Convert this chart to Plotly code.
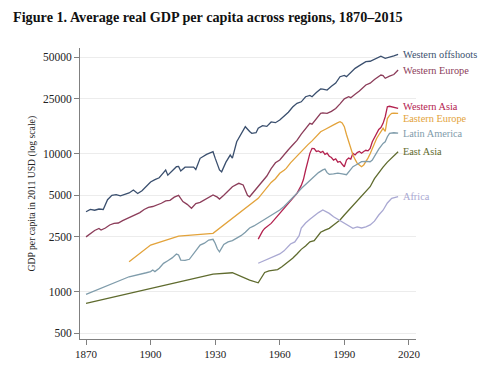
import math
import plotly.graph_objects as go

# ---------------- data ----------------
wo_years = [1870,1872,1874,1876,1878,1879,1880,1882,1884,1886,1888,1890,1892,1894,1896,1898,1900,1902,1904,1906,1907,1908,1910,1912,1913,1914,1916,1918,1920,1921,1923,1926,1929,1930,1932,1933,1935,1937,1938,1940,1942,1944,1946,1947,1949,1950,1952,1954,1956,1958,1960,1962,1964,1966,1968,1970,1972,1974,1975,1977,1979,1980,1982,1984,1986,1988,1990,1991,1993,1995,1997,1999,2000,2002,2004,2006,2007,2009,2011,2013,2015]
wo_vals = [3800,3950,3900,3980,3950,4300,4650,5000,5050,4950,5050,5200,5460,5150,5400,5800,6250,6500,6700,7300,7630,7000,7500,8060,8100,7500,8000,8000,8000,7700,9270,9900,10350,9300,7630,7400,8700,9790,9300,12230,14000,15710,14500,14070,14200,15300,16000,15800,17000,16800,17560,18700,20000,21800,23210,23800,25900,26500,25900,27800,29500,29400,28970,30800,32500,36170,37000,36200,38500,41600,43500,45500,46460,46800,48500,50500,51000,49170,50000,51200,52560]

we_years = [1870,1872,1874,1876,1877,1879,1881,1883,1885,1887,1889,1891,1893,1895,1897,1899,1901,1903,1905,1907,1909,1911,1913,1915,1917,1919,1921,1923,1925,1927,1929,1931,1932,1934,1936,1938,1940,1941,1943,1945,1946,1948,1950,1952,1954,1956,1958,1960,1962,1964,1966,1968,1970,1972,1974,1975,1977,1979,1980,1982,1984,1986,1988,1990,1992,1993,1995,1997,2000,2002,2004,2006,2007,2008,2009,2011,2013,2015]
we_vals = [2500,2640,2780,2880,2800,2900,3050,3130,3150,3280,3400,3500,3650,3750,3950,4090,4150,4250,4380,4550,4600,4850,5000,4500,4300,4030,4350,4450,4650,4820,5030,4850,4700,5000,5400,5770,6000,6110,5950,5000,4880,5300,5770,6300,6900,7800,8600,9010,9900,10700,11570,12500,13900,15200,16620,16400,17800,19640,19800,19600,20300,21300,23000,25000,25900,25500,27000,28500,31490,32500,34500,36500,37200,36800,35230,36500,37500,40450]

wa_years = [1950,1951,1952,1953,1954,1956,1958,1960,1962,1964,1966,1968,1970,1971,1972,1973,1974,1975,1976,1977,1978,1979,1980,1981,1982,1983,1984,1985,1986,1987,1988,1989,1990,1991,1992,1993,1994,1995,1996,1997,1998,1999,2000,2001,2002,2003,2004,2005,2006,2007,2008,2009,2010,2011,2012,2013,2014,2015]
wa_vals = [2410,2600,2750,2880,2950,3130,3400,3700,3950,4350,4750,5170,5900,6500,7600,9010,10070,10950,10900,10400,10500,10200,10400,9900,10100,9600,9400,9000,9200,8700,8800,8400,8060,9010,9300,9150,10070,9800,10200,10400,10100,10400,10600,10500,10950,12230,13000,14000,15000,15500,16620,18560,21930,22100,21930,21800,21500,21350]

ee_years = [1890,1900,1913,1929,1950,1952,1954,1956,1958,1960,1962,1963,1965,1967,1969,1971,1973,1975,1977,1979,1981,1983,1985,1987,1988,1989,1990,1991,1992,1993,1994,1995,1996,1997,1998,1999,2000,2001,2002,2003,2004,2005,2006,2007,2008,2009,2010,2011,2012,2013,2014,2015]
ee_vals = [1650,2180,2535,2650,4756,5200,5700,6200,6600,7220,7600,7840,8600,9300,10000,10700,11600,12400,13400,14450,15000,15700,16200,16800,17060,16700,15710,13800,12230,10800,9790,9100,8530,8300,8060,8300,8760,9300,10000,10950,12000,12900,13680,14600,15300,14500,18000,19000,19640,19700,19640,19640]

la_years = [1870,1890,1898,1900,1901,1902,1904,1906,1908,1910,1912,1913,1914,1916,1918,1920,1921,1923,1925,1927,1929,1930,1931,1932,1934,1936,1938,1940,1942,1944,1946,1948,1950,1952,1954,1956,1958,1960,1962,1964,1966,1968,1970,1972,1974,1976,1978,1980,1981,1982,1983,1985,1987,1989,1990,1991,1993,1994,1996,1998,2000,2002,2003,2004,2006,2008,2009,2010,2011,2013,2014,2015]
la_vals = [958,1285,1374,1400,1437,1400,1480,1607,1680,1760,1877,1850,1699,1690,1720,1900,2007,2180,2250,2370,2400,2250,2050,1950,2200,2300,2350,2450,2550,2700,2900,3000,3134,3250,3406,3550,3700,3912,4150,4450,4800,5170,5600,6000,6460,6900,7300,7650,7750,7300,7100,7150,7250,7150,7100,7050,7700,8060,8400,8760,8800,8760,9000,9600,10800,11900,12200,13290,14070,14200,14070,14100]

ea_years = [1870,1929,1938,1946,1950,1951,1953,1955,1957,1959,1961,1963,1965,1966,1968,1970,1972,1974,1976,1977,1979,1981,1983,1985,1988,1990,1992,1994,1997,1999,2002,2004,2006,2008,2010,2012,2014,2015]
ea_vals = [825,1345,1374,1216,1163,1230,1380,1420,1437,1450,1519,1600,1680,1748,1880,2030,2150,2300,2350,2450,2700,2800,2883,3050,3311,3600,3900,4250,4756,5100,5770,6600,7300,8000,8700,9300,9900,10350]

af_years = [1950,1952,1954,1956,1958,1960,1962,1963,1965,1967,1969,1970,1972,1974,1976,1978,1980,1981,1983,1985,1987,1989,1991,1993,1994,1996,1998,2000,2002,2004,2006,2008,2010,2012,2014,2015]
af_vals = [1610,1660,1720,1780,1840,1880,1980,2050,2220,2300,2550,2900,3150,3350,3550,3750,3912,3850,3700,3500,3350,3200,3050,2950,2880,2950,2900,2950,3050,3250,3600,3900,4400,4756,4885,4900]

region_names = ["Western offshoots", "Western Europe", "Western Asia", "Eastern Europe",
                "Latin America", "East Asia", "Africa"]

y_tick_vals = [500, 1000, 2500, 5000, 10000, 25000, 50000]
x_tick_vals = [1870, 1900, 1930, 1960, 1990, 2020]

title_text = "Figure 1. Average real GDP per capita across regions, 1870–2015"
y_title_text = "GDP per capita in 2011 USD (log scale)"

# ---------------- styling ----------------
# (data arrays, colour, label pixel shift)
series = [
    (wo_years, wo_vals, "#3a4f6e", 0),
    (we_years, we_vals, "#8c3d5a", 0),
    (wa_years, wa_vals, "#b3224f", 2),
    (ee_years, ee_vals, "#e3a33b", -5),
    (la_years, la_vals, "#7f9cab", 0),
    (ea_years, ea_vals, "#5f6b2e", 0),
    (af_years, af_vals, "#a9a8d2", 0),
]

SERIF = "Liberation Serif, Times New Roman, serif"

W, H = 492, 369  # page body has an 8px margin

fig = go.Figure()
annotations = []
for name, (xs, ys, color, yshift) in zip(region_names, series):
    fig.add_trace(go.Scatter(x=xs, y=ys, mode="lines", name=name,
                             line=dict(color=color, width=1.3),
                             showlegend=False, hoverinfo="skip"))
    annotations.append(dict(
        x=xs[-1], y=math.log10(ys[-1]), xref="x", yref="y",
        text=name, showarrow=False, xanchor="left", yanchor="middle",
        xshift=3, yshift=yshift,
        font=dict(family=SERIF, size=10.3, color=color)))

annotations.append(dict(
    x=-0.143, y=0.5, xref="paper", yref="paper", text=y_title_text,
    textangle=-90, showarrow=False, xanchor="center", yanchor="middle",
    font=dict(family=SERIF, size=9.7, color="#222222")))

fig.update_layout(
    width=W, height=H,
    margin=dict(l=72, r=84, t=40, b=38),
    paper_bgcolor="white", plot_bgcolor="white",
    title=dict(text="<b>" + title_text + "</b>", x=5 / W, xanchor="left",
               y=1 - 9 / H, yanchor="middle", xref="container", yref="container",
               font=dict(family=SERIF, size=14.2, color="#111111")),
    annotations=annotations,
)

fig.update_xaxes(range=[1867.2, 2023.3], tickvals=x_tick_vals,
                 ticktext=[str(v) for v in x_tick_vals],
                 showgrid=False, zeroline=False,
                 showline=True, linecolor="#808080", linewidth=1,
                 ticks="outside", ticklen=5, tickcolor="#808080",
                 tickfont=dict(family=SERIF, size=11, color="#222222"))
fig.update_yaxes(type="log", range=[math.log10(455), math.log10(58400)],
                 tickvals=y_tick_vals, ticktext=[str(v) for v in y_tick_vals],
                 showgrid=True, gridcolor="#ececec", gridwidth=1, zeroline=False,
                 showline=True, linecolor="#808080", linewidth=1,
                 ticks="outside", ticklen=5, tickcolor="#808080",
                 tickfont=dict(family=SERIF, size=11.5, color="#222222"))

fig.write_html("out.html")
